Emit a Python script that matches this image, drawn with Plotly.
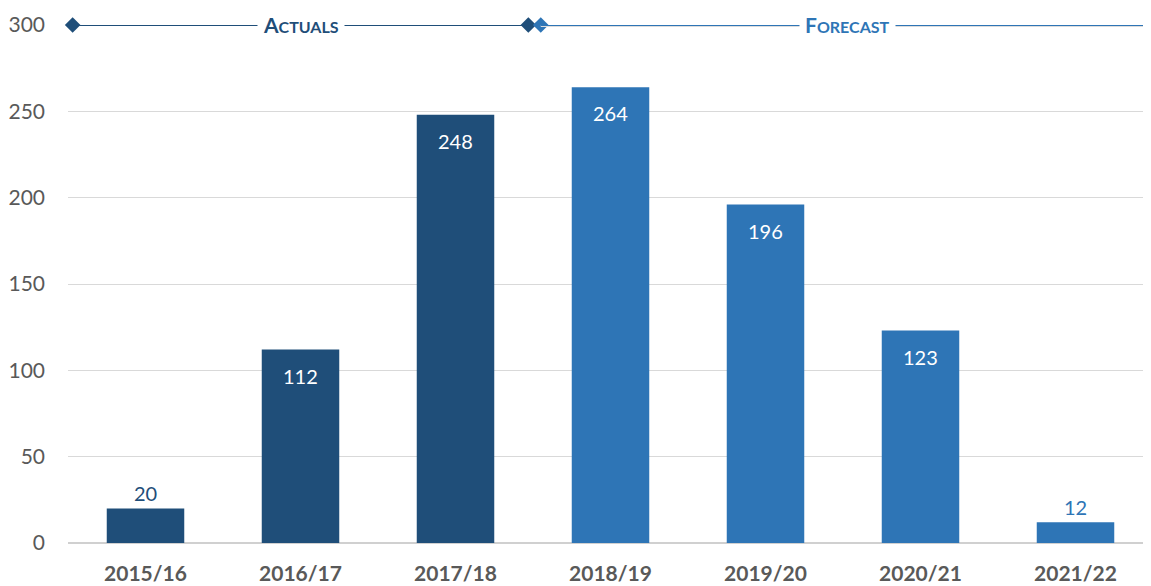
import plotly.graph_objects as go

categories = ["2015/16", "2016/17", "2017/18", "2018/19", "2019/20", "2020/21", "2021/22"]
values = [20, 112, 248, 264, 196, 123, 12]
is_forecast = [False, False, False, True, True, True, True]
y_ticks = [0, 50, 100, 150, 200, 250, 300]

DARK = "#1F4E79"
LIGHT = "#2E75B6"
GRAY = "#595959"

x_idx = list(range(len(categories)))
colors = [LIGHT if f else DARK for f in is_forecast]

fig = go.Figure()
fig.add_trace(go.Bar(
    x=x_idx, y=values, width=0.5,
    marker=dict(color=colors, line=dict(width=0)),
    hoverinfo="skip",
))

# data labels
for xi, v, c in zip(x_idx, values, colors):
    if v < 40:
        fig.add_annotation(x=xi, y=v, xref="x", yref="y", showarrow=False,
                           text=str(v), yanchor="bottom", yshift=1,
                           font=dict(family="Lato", size=20, color=c))
    else:
        fig.add_annotation(x=xi, y=v, xref="x", yref="y", showarrow=False,
                           text=str(v), yanchor="middle", yshift=-26,
                           font=dict(family="Lato", size=20, color="white"))

top = y_ticks[-1]
fig.add_shape(type="line", x0=2.55, x1=6.5, y0=top, y1=top, xref="x", yref="y",
              line=dict(color="#DCDCDC", width=4), layer="above")
fig.add_shape(type="line", x0=-0.47, x1=2.47, y0=top, y1=top, xref="x", yref="y",
              line=dict(color=DARK, width=2), layer="above")
fig.add_shape(type="line", x0=2.55, x1=6.5, y0=top, y1=top, xref="x", yref="y",
              line=dict(color=LIGHT, width=2), layer="above")
fig.add_trace(go.Scatter(x=[-0.47, 2.47], y=[top, top], mode="markers",
                         marker=dict(symbol="diamond", size=12, color=DARK),
                         hoverinfo="skip", cliponaxis=False))
fig.add_trace(go.Scatter(x=[2.55], y=[top], mode="markers",
                         marker=dict(symbol="diamond", size=12, color=LIGHT),
                         hoverinfo="skip", cliponaxis=False))

fig.add_annotation(x=1.0, y=top, xref="x", yref="y", showarrow=False,
                   text="A<span style='font-size:16px'>CTUALS</span>",
                   font=dict(family="Lato", size=21, color=DARK, weight="bold"),
                   bgcolor="white", borderpad=5, yshift=1)
fig.add_annotation(x=4.53, y=top, xref="x", yref="y", showarrow=False,
                   text="F<span style='font-size:16px'>ORECAST</span>",
                   font=dict(family="Lato", size=21, color=LIGHT, weight="bold"),
                   bgcolor="white", borderpad=5, yshift=1)

fig.update_layout(
    width=1151, height=586,
    margin=dict(l=60, r=6, t=17, b=51, autoexpand=False),
    paper_bgcolor="white", plot_bgcolor="white",
    showlegend=False,
    font=dict(family="Lato", color=GRAY),
    xaxis=dict(range=[-0.5, 6.5], tickmode="array", tickvals=x_idx, ticktext=categories,
               showgrid=False, zeroline=False, showline=False, ticks="",
               tickfont=dict(size=21, color=GRAY, family="Lato", weight="bold"),
               ticklabelstandoff=16, fixedrange=True, automargin=False),
    yaxis=dict(range=[0, 300], tickmode="array", tickvals=y_ticks,
               showgrid=True, gridcolor="#D9D9D9", gridwidth=1,
               zeroline=True, zerolinecolor="#D0D0D0", zerolinewidth=1.5,
               tickfont=dict(size=21, color=GRAY, family="Lato"),
               ticks="", ticklabelstandoff=22, fixedrange=True, automargin=False),
)

fig.write_html("out.html")
